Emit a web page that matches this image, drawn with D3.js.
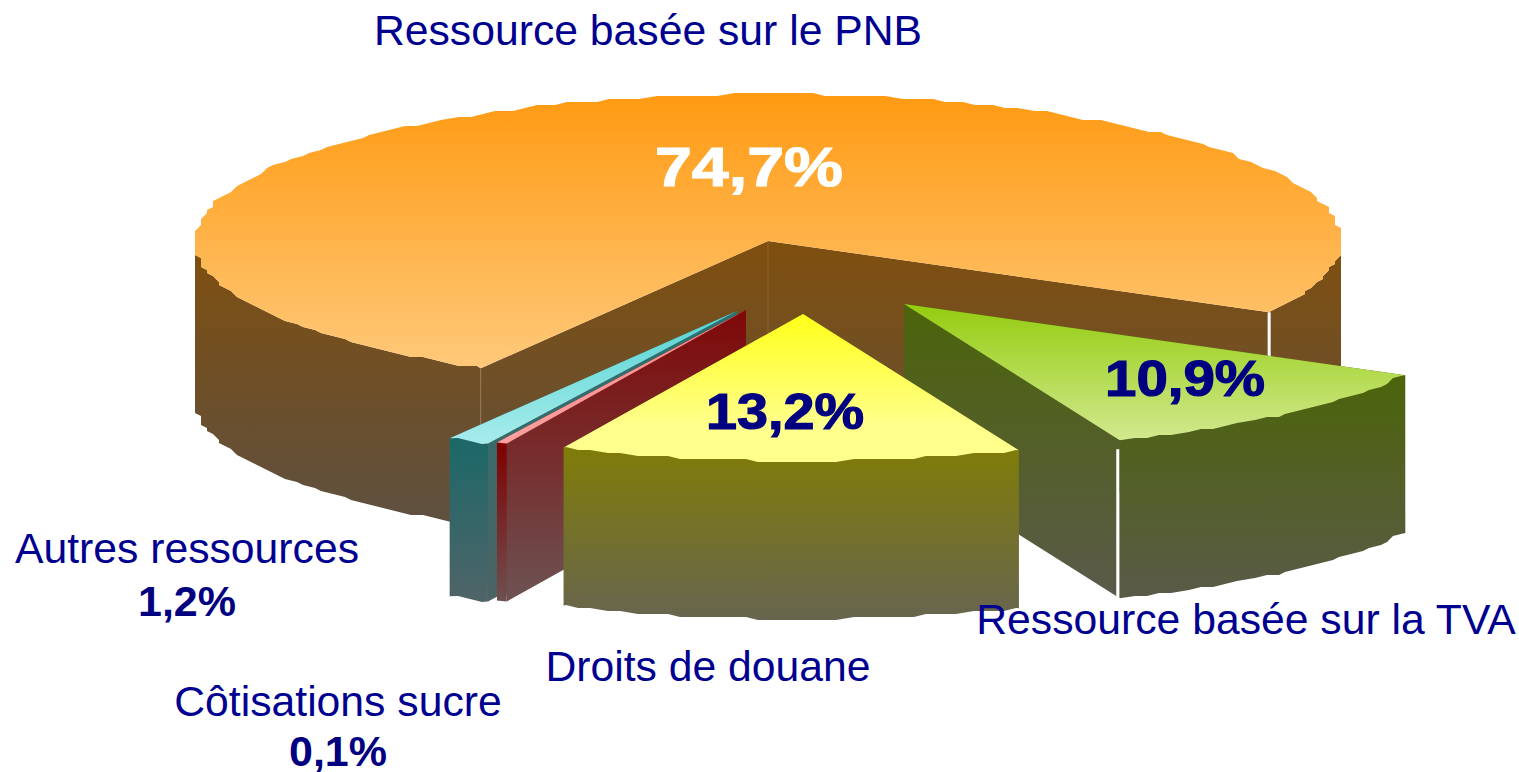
<!DOCTYPE html>
<html>
<head>
<meta charset="utf-8">
<style>
  html, body { margin: 0; background: #fff; }
  svg { display: block; }
  text { font-family: 'Liberation Sans', Arial, sans-serif; }
</style>
</head>
<body>
<div id="app"></div>
<script src="https://cdn.jsdelivr.net/npm/d3@7"></script>
<script>
'use strict'

const width = 1519
const height = 772

// Slice shares as measured from the drawn angles. The printed labels say
// 10,9 / 13,2 / 0,1 for TVA, douane and sucre, the drawing is a bit off from that.
const categories = ['TVA', 'Droits', 'Sucre', 'Autres', 'PNB']
const shares = [10.8, 13.0, 0.3, 1.2, 74.7]

// how far each slice is pulled out of the pie, in px
const explodeX = [136, 35, -22, -31, 0]
const explodeY = [63, 73, 69, 70, 0]

const topColors = [['#94cc10', '#d2e98e'], ['#ffff1a', '#ffff8c'], ['#ff8a8a', '#ffa0a0'], ['#55d2d2', '#a8ecec'], ['#ff9a12', '#ffc97a']]
const sideColors = [['#4c640a', '#5a5a48'], ['#807c08', '#67654f'], ['#800000', '#6e5050'], ['#1c6868', '#4f6468'], ['#7f4f0f', '#5e5040']]
const wallColors = [['#4c640a', '#5a5a48'], ['#807c08', '#67654f'], ['#800808', '#6e5050'], ['#2a7070', '#4b6364'], ['#7f4f0f', '#5e5040']]

const nameLabels = [
  { text: 'Ressource basée sur le PNB', x: 648, y: 44.5 },
  { text: 'Ressource basée sur la TVA', x: 1246, y: 634 },
  { text: 'Droits de douane', x: 708, y: 681 },
  { text: 'Autres ressources', x: 187, y: 563 },
  { text: 'Côtisations sucre', x: 338, y: 715.5 }
]
// the big ones are stretched sideways in the source, hence the fixed length
const valueLabels = [
  { text: '74,7%', x: 749, y: 186, size: 56, fill: '#fff', length: 188 },
  { text: '13,2%', x: 785, y: 429, size: 50, fill: '#000080', length: 158 },
  { text: '10,9%', x: 1185, y: 396, size: 50, fill: '#000080', length: 160 },
  { text: '1,2%', x: 187, y: 616, size: 43, fill: '#000080' },
  { text: '0,1%', x: 338, y: 766, size: 43, fill: '#000080' }
]

const cx = 768
const cy = 241
const rx = 573
const ry = 147
const depth = 158

const svg = d3.select('#app').append('svg')
  .attr('width', width)
  .attr('height', height)

const defs = svg.append('defs')

const deg = Math.PI / 180
const pie = d3.pie()
  .value(d => d.share)
  .sort(null)
  .startAngle(119 * deg)
  .endAngle(119 * deg + 2 * Math.PI)

const slices = pie(categories.map((c, i) => ({ name: c, share: shares[i], i })))

const line = d3.line()

const rimPoint = (a, s) => [
  cx + s.dx + rx * Math.sin(a),
  cy + s.dy - ry * Math.cos(a)
]

// The source image was a coarse bitmap, the rim edge has small steps in it.
// Samples sit on a fixed angle grid and snap to a pixel grid, so the side
// and the top of a slice always get the very same edge.
function rimPoints(a0, a1, s) {
  const step = 1.55 * deg
  const first = Math.ceil(a0 / step + 0.01)
  const last = Math.floor(a1 / step - 0.01)
  const inner = d3.range(first, last + 1).map(k => {
    const p = rimPoint(k * step, s)
    return [
      Math.round((p[0] - cx - s.dx + rx) / 6) * 6 + cx + s.dx - rx,
      Math.round(p[1] / 3) * 3
    ]
  })
  return [rimPoint(a0, s)].concat(inner, [rimPoint(a1, s)])
}

function gradient(id, colors, y0, y1) {
  const g = defs.append('linearGradient')
    .attr('id', id)
    .attr('gradientUnits', 'userSpaceOnUse')
    .attr('x1', 0).attr('x2', 0)
    .attr('y1', y0).attr('y2', y1)
  g.append('stop').attr('offset', 0).attr('stop-color', colors[0])
  g.append('stop').attr('offset', 1).attr('stop-color', colors[1])
  return `url(#${id})`
}

const down = p => [p[0], p[1] + depth]

// draw order is back to front
const drawOrder = ['PNB', 'Autres', 'Sucre', 'TVA', 'Droits']

drawOrder.forEach(name => {
  const d = slices.find(s => s.data.name === name)
  const i = d.data.i
  const s = { dx: explodeX[i], dy: explodeY[i] }
  const apex = [cx + s.dx, cy + s.dy]
  const g = svg.append('g').attr('class', `slice-${name}`)

  const rimStart = rimPoint(d.startAngle, s)
  const rimEnd = rimPoint(d.endAngle, s)
  const isMain = name === 'PNB'

  const topY = isMain ? cy - ry : apex[1]
  const bottomY = d3.max(rimPoints(d.startAngle, d.endAngle, s), p => p[1])
  const sideFill = gradient(`side-${name}`, sideColors[i],
    isMain ? 245 : d3.min([rimStart[1], rimEnd[1]]),
    isMain ? bottomY + depth - 5 : bottomY + depth)
  const wallFill = gradient(`wall-${name}`, wallColors[i],
    isMain ? 245 : apex[1],
    isMain ? bottomY + depth - 5 : bottomY + depth - 10)
  const topFill = gradient(`top-${name}`, topColors[i], topY,
    name === 'Droits' ? 425 : bottomY)

  // cut walls, the one closest to the viewer goes last
  const walls = [rimStart, rimEnd].sort((a, b) => a[1] - b[1])
  walls.forEach(p => {
    g.append('path')
      .attr('d', line([apex, p, down(p), down(apex)]) + 'Z')
      .attr('fill', wallFill)
  })

  // outer side, only the part that faces the viewer
  const fronts = [[90, 270], [450, 630]]
  fronts.forEach(f => {
    const a0 = Math.max(d.startAngle, f[0] * deg)
    const a1 = Math.min(d.endAngle, f[1] * deg)
    if (a1 <= a0) return
    const pts = rimPoints(a0, a1, s)
    g.append('path')
      .attr('d', line(pts.concat(pts.map(down).reverse())) + 'Z')
      .attr('fill', sideFill)
  })

  if (isMain) {
    // faint seams on the inner wall
    ;[apex, rimStart].forEach(p => {
      g.append('line')
        .attr('x1', p[0]).attr('x2', p[0])
        .attr('y1', p[1]).attr('y2', p[1] + depth)
        .attr('stroke', '#fff')
        .attr('stroke-opacity', 0.12)
    })
    g.append('line')
      .attr('x1', rimEnd[0]).attr('x2', rimEnd[0])
      .attr('y1', rimEnd[1]).attr('y2', rimEnd[1] + depth)
      .attr('stroke', '#fff')
      .attr('stroke-width', 3)
  }
  if (name === 'TVA') {
    g.append('line')
      .attr('x1', rimEnd[0] - 2).attr('x2', rimEnd[0] - 2)
      .attr('y1', rimEnd[1] + 9).attr('y2', rimEnd[1] + depth)
      .attr('stroke', '#fff')
      .attr('stroke-width', 3)
  }

  const top = [apex].concat(rimPoints(d.startAngle, d.endAngle, s))
  g.append('path')
    .attr('d', line(top) + 'Z')
    .attr('fill', topFill)
})

svg.append('g').selectAll('text')
  .data(nameLabels)
  .join('text')
  .attr('x', d => d.x)
  .attr('y', d => d.y)
  .attr('text-anchor', 'middle')
  .attr('font-size', 42.7)
  .attr('fill', '#000090')
  .text(d => d.text)

svg.append('g').selectAll('text')
  .data(valueLabels)
  .join('text')
  .attr('x', d => d.x)
  .attr('y', d => d.y)
  .attr('text-anchor', 'middle')
  .attr('font-size', d => d.size)
  .attr('font-weight', 'bold')
  .attr('fill', d => d.fill)
  .attr('stroke', d => d.length ? d.fill : null)
  .attr('stroke-width', d => d.length ? 1.2 : null)
  .attr('textLength', d => d.length || null)
  .attr('lengthAdjust', d => d.length ? 'spacingAndGlyphs' : null)
  .text(d => d.text)
</script>
</body>
</html>
